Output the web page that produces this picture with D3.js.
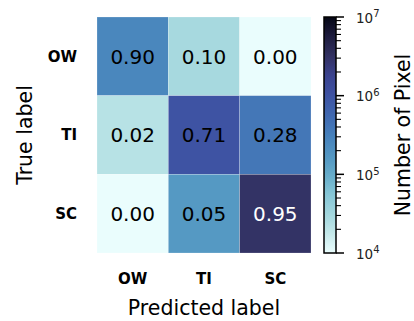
<!DOCTYPE html>
<html>
<head>
<meta charset="utf-8">
<script src="https://cdn.jsdelivr.net/npm/d3@7"></script>
<style>
  body { margin: 0; background: #fff; }
  svg { display: block; font-family: "DejaVu Sans", sans-serif; }
</style>
</head>
<body>
<svg id="chart" width="414" height="321"></svg>
<script>
// class names (rows = true, cols = predicted)
const classes = ["OW", "TI", "SC"];

// pixel counts per cell
const rowOW = [2.6e5, 2.9e4, 200];
const rowTI = [2.2e4, 1.0e6, 3.95e5];
const rowSC = [500, 1.6e5, 3.0e6];
const counts = [rowOW, rowTI, rowSC];

// colorbar range and ticks
const cbDomain = [1e4, 1e7];

// colour ramp (light cyan -> navy), positions along log range
const rampPos = [0, 0.08, 0.15, 0.25, 0.33, 0.40, 0.50, 0.58, 0.67, 0.75, 0.83, 0.92, 1];
const rampCol = ["#eafdfd", "#c6e9ea", "#a8dadf", "#86c6d6", "#66acc9", "#5599c3",
                 "#4680bb", "#4069b0", "#3e52a2", "#3b4390", "#333263", "#1d1c3d", "#040613"];

const svg = d3.select("#chart");

const margin = {left: 97, top: 17, right: 311, bottom: 253};

const x = d3.scaleBand().domain(classes).range([margin.left, margin.right]);
const y = d3.scaleBand().domain(classes).range([margin.top, margin.bottom]);

const logPos = d3.scaleLog().domain(cbDomain).range([0, 1]).clamp(true);
const ramp = d3.scaleLinear().domain(rampPos).range(rampCol).interpolate(d3.interpolateRgb);
const color = v => ramp(logPos(v));

// flatten the matrix with row-normalised fractions
let cells = [];
counts.forEach(function (row, i) {
    let total = d3.sum(row);
    row.forEach(function (c, j) {
        cells.push({r: classes[i], c: classes[j], n: c, frac: c / total});
    });
});

const g = svg.append("g");

g.selectAll("rect")
    .data(cells)
    .join("rect")
    .attr("x", d => x(d.c))
    .attr("y", d => y(d.r))
    .attr("width", x.bandwidth())
    .attr("height", y.bandwidth())
    .attr("fill", d => color(d.n))
    .attr("stroke", "#ffffff")
    .attr("stroke-opacity", 0.35)
    .attr("stroke-width", 0.6);

g.selectAll("text.val")
    .data(cells)
    .join("text")
    .attr("class", "val")
    .attr("x", d => x(d.c) + x.bandwidth() / 2)
    .attr("y", d => y(d.r) + y.bandwidth() / 2)
    .attr("dy", "0.36em")
    .attr("text-anchor", "middle")
    .attr("font-size", "20px")
    .attr("fill", d => logPos(d.n) > 0.75 ? "#ffffff" : "#000000")
    .text(d => d.frac.toFixed(2));

// tick labels (bold, no tick marks)
svg.append("g").selectAll("text")
    .data(classes)
    .join("text")
    .attr("x", d => x(d) + x.bandwidth() / 2)
    .attr("y", 279)
    .attr("dy", "0.36em")
    .attr("text-anchor", "middle")
    .attr("font-size", "15px")
    .attr("font-weight", "bold")
    .text(d => d);

svg.append("g").selectAll("text")
    .data(classes)
    .join("text")
    .attr("x", 77)
    .attr("y", d => y(d) + y.bandwidth() / 2)
    .attr("dy", "0.36em")
    .attr("text-anchor", "end")
    .attr("font-size", "15px")
    .attr("font-weight", "bold")
    .text(d => d);

// axis titles
svg.append("text")
    .attr("x", (margin.left + margin.right) / 2)
    .attr("y", 315)
    .attr("text-anchor", "middle")
    .attr("font-size", "20.5px")
    .text("Predicted label");

svg.append("text")
    .attr("transform", "translate(32," + ((margin.top + margin.bottom) / 2) + ") rotate(-90)")
    .attr("text-anchor", "middle")
    .attr("font-size", "20.5px")
    .text("True label");

// colorbar
const cb = {x: 324, w: 12};
const cbScale = d3.scaleLog().domain(cbDomain).range([margin.bottom, margin.top]);

const defs = svg.append("defs");
const grad = defs.append("linearGradient")
    .attr("id", "cbgrad")
    .attr("x1", 0).attr("y1", 1).attr("x2", 0).attr("y2", 0);
grad.selectAll("stop")
    .data(d3.range(0, 1.0001, 0.02))
    .join("stop")
    .attr("offset", d => d)
    .attr("stop-color", d => ramp(d));

svg.append("rect")
    .attr("x", cb.x)
    .attr("y", margin.top)
    .attr("width", cb.w)
    .attr("height", margin.bottom - margin.top)
    .attr("fill", "url(#cbgrad)")
    .attr("stroke", "#000")
    .attr("stroke-width", 1.5);

const cbTicks = cbScale.ticks();
const isMajor = t => Math.abs(Math.log10(t) - Math.round(Math.log10(t))) < 1e-9;

svg.append("g").selectAll("line")
    .data(cbTicks)
    .join("line")
    .attr("x1", cb.x + cb.w)
    .attr("x2", d => cb.x + cb.w + (isMajor(d) ? 8 : 5))
    .attr("y1", d => cbScale(d))
    .attr("y2", d => cbScale(d))
    .attr("stroke", "#000")
    .attr("stroke-width", d => isMajor(d) ? 1.5 : 1.1);

const lbl = svg.append("g").selectAll("text")
    .data(cbTicks.filter(isMajor))
    .join("text")
    .attr("x", 356)
    .attr("y", d => cbScale(d))
    .attr("dy", "0.42em")
    .attr("font-size", "13.5px")
    .attr("fill", "#222");
lbl.append("tspan").text("10");
lbl.append("tspan")
    .attr("dy", "-0.55em")
    .attr("font-size", "10px")
    .text(d => Math.round(Math.log10(d)));

svg.append("text")
    .attr("transform", "translate(410," + ((margin.top + margin.bottom) / 2) + ") rotate(-90)")
    .attr("text-anchor", "middle")
    .attr("font-size", "20.5px")
    .text("Number of Pixel");
</script>
</body>
</html>
